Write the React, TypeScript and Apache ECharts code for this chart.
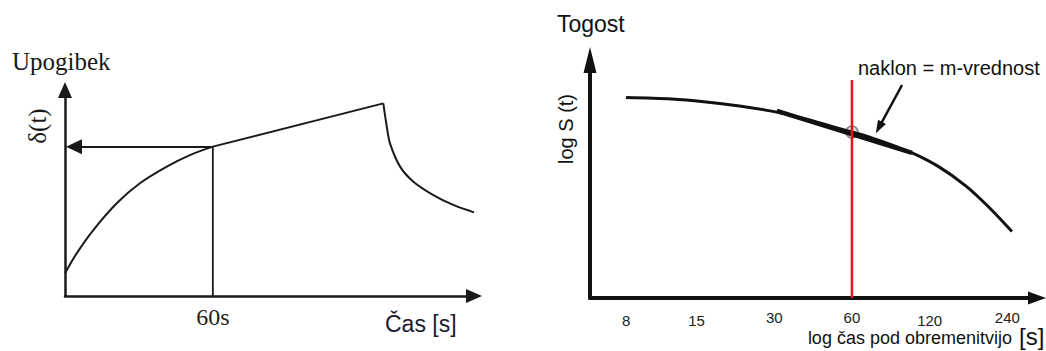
import { useEffect, useRef } from 'react';
import * as echarts from 'echarts';

// ---------- Left panel: Upogibek δ(t) vs Čas [s] ----------
const riseTime = [0, 4.75, 11.5, 21, 30.4, 41.3, 50.7, 60];
const riseDeflection = [11.0, 20.7, 32.0, 45.0, 54.7, 62.8, 68.4, 72.5];
const creepTime = [60, 129.2];
const creepDeflection = [72.5, 93.5];
const recoveryTime = [129.2, 130.6, 131.9, 136.0, 141.4, 149.5, 157.6, 166];
const recoveryDeflection = [93.5, 82.2, 74.1, 62.8, 55.5, 49.0, 44.2, 40.6];
const readTime = 60;
const readDeflection = 72.5;
const readArrowEnd = 3.65;
const leftTicks = [60];

// ---------- Right panel: Togost log S(t) vs log čas ----------
const loadTime = [8, 12, 16, 22, 30, 40, 56, 72, 100, 130, 167, 205, 250];
const logStiffness = [84.2, 83.6, 82.5, 80.7, 78.3, 75.1, 70.6, 67.2, 61.5, 55.2, 46.8, 37.8, 27.9];
const timeTicks = [8, 15, 30, 60, 120, 240];
const tangentTime = [30.7, 102.5];
const tangentStiffness = [78.6, 61.0];
const markTime = 60;
const markStiffness = 69.7;
const redLineTop = 91.6;
const pointerFrom = [93.8, 89.5];
const pointerTo = [76.3, 71.6];

const zip = (xs: number[], ys: number[]) => xs.map((x, i) => [x, ys[i]]);

const SERIF = '"Liberation Serif", "Times New Roman", serif';
const SANS = '"Liberation Sans", Arial, sans-serif';
const INK = '#1a1a1a';

const tickStyle: Record<number, string> = { 8: 'low', 15: 'low', 120: 'low' };

export default function App() {
  const ref = useRef<HTMLDivElement>(null);
  useEffect(() => {
    if (!ref.current) return;
    const chart = echarts.init(ref.current, null, { renderer: 'svg' });
    const option: any = {
      animation: false,
      backgroundColor: '#ffffff',
      grid: [
        { left: 65, top: 90, width: 409, height: 206, outerBoundsMode: 'none' },
        { left: 590, top: 60, width: 447, height: 238, outerBoundsMode: 'none' },
      ],
      xAxis: [
        {
          type: 'value', gridIndex: 0, min: 0, max: 166,
          axisLine: { show: true, onZero: false, symbol: ['none', 'triangle'], symbolSize: [14, 16], lineStyle: { color: INK, width: 2.5 } },
          axisTick: { show: false },
          splitLine: { show: false },
          axisLabel: { customValues: leftTicks, formatter: '{value}s', fontFamily: SERIF, fontSize: 24, color: '#222', margin: 9 },
        },
        {
          type: 'log', logBase: 2, gridIndex: 1, min: 5.8, max: 312.6,
          axisLine: { show: true, onZero: false, symbol: ['none', 'triangle'], symbolSize: [13, 18], lineStyle: { color: '#111', width: 4 } },
          axisTick: { show: false },
          splitLine: { show: false },
          minorTick: { show: false },
          minorSplitLine: { show: false },
          axisLabel: {
            customValues: timeTicks,
            margin: 12,
            formatter: (v: number) => `{${tickStyle[Math.round(v)] ?? 'base'}|${Math.round(v)}}`,
            rich: {
              base: { fontFamily: SANS, fontSize: 15, color: '#222' },
              low: { fontFamily: SANS, fontSize: 15, color: '#222', padding: [3, 0, 0, 0] },
            },
          },
        },
      ],
      yAxis: [
        {
          type: 'value', gridIndex: 0, min: 0, max: 100,
          axisLine: { show: true, onZero: false, symbol: ['none', 'triangle'], symbolSize: [14, 16], lineStyle: { color: INK, width: 2.5 } },
          axisTick: { show: false }, axisLabel: { show: false }, splitLine: { show: false },
        },
        {
          type: 'value', gridIndex: 1, min: 0, max: 100,
          axisLine: { show: true, onZero: false, symbol: ['none', 'triangle'], symbolSize: [13, 26], lineStyle: { color: '#111', width: 4 } },
          axisTick: { show: false }, axisLabel: { show: false }, splitLine: { show: false },
        },
      ],
      series: [
        {
          type: 'line', xAxisIndex: 0, yAxisIndex: 0, data: zip(riseTime, riseDeflection),
          smooth: 0.35, symbol: 'none', lineStyle: { color: INK, width: 2 }, silent: true,
        },
        {
          type: 'line', xAxisIndex: 0, yAxisIndex: 0, data: zip(creepTime, creepDeflection),
          symbol: 'none', lineStyle: { color: INK, width: 2 }, silent: true,
        },
        {
          type: 'line', xAxisIndex: 0, yAxisIndex: 0, data: zip(recoveryTime, recoveryDeflection),
          smooth: 0.3, symbol: 'none', lineStyle: { color: INK, width: 2 }, silent: true,
        },
        {
          type: 'line', xAxisIndex: 0, yAxisIndex: 0, data: [[readTime, 0], [readTime, readDeflection]],
          symbol: 'none', lineStyle: { color: INK, width: 1.8 }, silent: true,
          markLine: {
            silent: true, symbol: ['none', 'triangle'], symbolSize: [15, 16],
            lineStyle: { color: INK, width: 2, type: 'solid' }, label: { show: false },
            data: [[{ coord: [readTime, readDeflection] }, { coord: [readArrowEnd, readDeflection] }]],
          },
        },
        {
          type: 'line', xAxisIndex: 1, yAxisIndex: 1, data: zip(loadTime, logStiffness),
          smooth: 0.3, symbol: 'none', lineStyle: { color: '#111', width: 3 }, silent: true,
          markLine: {
            silent: true, symbol: ['none', 'triangle'], symbolSize: [9, 13],
            lineStyle: { color: '#111', width: 2.5, type: 'solid' }, label: { show: false },
            data: [[{ coord: pointerFrom }, { coord: pointerTo }]],
          },
        },
        {
          type: 'line', xAxisIndex: 1, yAxisIndex: 1, data: zip(tangentTime, tangentStiffness),
          symbol: 'none', lineStyle: { color: '#111', width: 4.5 }, silent: true,
        },
        {
          type: 'scatter', xAxisIndex: 1, yAxisIndex: 1, data: [[markTime, markStiffness]],
          symbol: 'circle', symbolSize: 12,
          itemStyle: { color: 'rgba(150,150,150,0.4)', borderColor: '#6a6a6a', borderWidth: 1.6 }, silent: true,
        },
        {
          type: 'line', xAxisIndex: 1, yAxisIndex: 1, data: [[markTime, 0], [markTime, redLineTop]],
          symbol: 'none', lineStyle: { color: '#e8141c', width: 2.5 }, silent: true,
        },
      ],
      graphic: [
        { type: 'text', x: 12, y: 61, style: { text: 'Upogibek', fontSize: 25, fontFamily: SERIF, fill: INK, textAlign: 'left', textVerticalAlign: 'middle' } },
        { type: 'text', x: 37, y: 126, rotation: Math.PI / 2, style: { text: 'δ(t)', fontSize: 25, fontFamily: SERIF, fill: INK, textAlign: 'center', textVerticalAlign: 'middle' } },
        { type: 'text', x: 385, y: 324, style: { text: 'Čas [s]', fontSize: 23, fontFamily: SANS, fill: '#1a1a2c', textAlign: 'left', textVerticalAlign: 'middle' } },
        { type: 'text', x: 557, y: 24, style: { text: 'Togost', fontSize: 23, fontFamily: SANS, fill: '#111', textAlign: 'left', textVerticalAlign: 'middle' } },
        { type: 'text', x: 566, y: 129, rotation: Math.PI / 2, style: { text: 'log S (t)', fontSize: 20, fontFamily: SANS, fill: '#111', textAlign: 'center', textVerticalAlign: 'middle' } },
        { type: 'text', x: 858, y: 67.5, style: { text: 'naklon = m-vrednost', fontSize: 20, fontFamily: SANS, fill: '#111', textAlign: 'left', textVerticalAlign: 'middle' } },
        { type: 'text', x: 1012, y: 338, style: { text: 'log čas pod obremenitvijo', fontSize: 18, fontFamily: SANS, fill: '#111', textAlign: 'right', textVerticalAlign: 'middle' } },
        { type: 'text', x: 1019, y: 336, style: { text: '[s]', fontSize: 24, fontFamily: SANS, fill: '#111', textAlign: 'left', textVerticalAlign: 'middle' } },
      ],
    };
    chart.setOption(option);
    return () => chart.dispose();
  }, []);
  return <div ref={ref} style={{ position: 'absolute', left: 0, top: 0, width: 1046, height: 351 }} />;
}
